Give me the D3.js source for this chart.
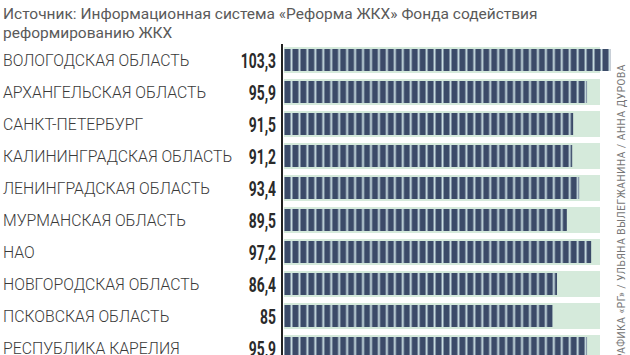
<!DOCTYPE html>
<html>
<head>
<meta charset="utf-8">
<script src="https://cdn.jsdelivr.net/npm/d3@7/dist/d3.min.js"></script>
<style>
  html, body { margin: 0; padding: 0; background: #fff; overflow: hidden; }
  svg { display: block; }
</style>
</head>
<body>
<svg id="chart" width="630" height="355"></svg>
<script>
const categories = [
  "ВОЛОГОДСКАЯ ОБЛАСТЬ",
  "АРХАНГЕЛЬСКАЯ ОБЛАСТЬ",
  "САНКТ-ПЕТЕРБУРГ",
  "КАЛИНИНГРАДСКАЯ ОБЛАСТЬ",
  "ЛЕНИНГРАДСКАЯ ОБЛАСТЬ",
  "МУРМАНСКАЯ ОБЛАСТЬ",
  "НАО",
  "НОВГОРОДСКАЯ ОБЛАСТЬ",
  "ПСКОВСКАЯ ОБЛАСТЬ",
  "РЕСПУБЛИКА КАРЕЛИЯ"
];
const values = [103.3, 95.9, 91.5, 91.2, 93.4, 89.5, 97.2, 86.4, 85, 95.9];
const trackMax = 100;
const titleLines = [
  "Источник: Информационная система «Реформа ЖКХ» Фонда содействия",
  "реформированию ЖКХ"
];
const credit = "ГРАФИКА «РГ» / УЛЬЯНА ВЫЛЕГЖАНИНА / АННА ДУРОВА";

const svg = d3.select("#chart");
const fmt = v => String(v).replace(".", ",");

const x = d3.scaleLinear().domain([0, trackMax]).range([284, 600]);
const y = d3.scaleBand().domain(categories).range([44, 364])
  .paddingInner(0.1875).paddingOuter(0.09375);

// pattern for segmented bars
const defs = svg.append("defs");
const pat = defs.append("pattern")
  .attr("id", "seg").attr("patternUnits", "userSpaceOnUse")
  .attr("x", x(0)).attr("y", 0).attr("width", 7.95).attr("height", 10);
pat.append("rect").attr("width", 7.95).attr("height", 10).attr("fill", "#cadee2");
pat.append("rect").attr("x", 0.5).attr("width", 6).attr("height", 10).attr("fill", "#3b4a68");

// title
svg.append("g").selectAll("text").data(titleLines).join("text")
  .attr("x", 3).attr("y", (d, i) => 19 + i * 19)
  .attr("font-family", "Roboto, 'Open Sans', sans-serif")
  .attr("font-size", 15.5).attr("fill", "#5a5a5a")
  .text(d => d);

const rows = svg.append("g").selectAll("g").data(categories).join("g");

// track
rows.append("rect")
  .attr("x", x(0)).attr("y", d => y(d))
  .attr("width", x(trackMax) - x(0)).attr("height", y.bandwidth())
  .attr("fill", "#d5eadb");

// bars
rows.append("rect")
  .attr("x", x(0)).attr("y", d => y(d) + 2)
  .attr("width", (d, i) => x(values[i]) - x(0)).attr("height", y.bandwidth() - 4)
  .attr("fill", "url(#seg)");

// category labels
rows.append("text")
  .attr("x", 3).attr("y", d => y(d) + y.bandwidth() / 2 + 5.5)
  .attr("font-family", "Roboto, sans-serif").attr("font-weight", 300)
  .attr("font-size", 15.8).attr("fill", "#3a3a3a")
  .text(d => d);

// value labels (condensed bold)
rows.append("text")
  .attr("transform", d => `translate(276,${y(d) + y.bandwidth() / 2 + 7.5}) scale(0.66,1)`)
  .attr("text-anchor", "end")
  .attr("font-family", "Roboto, sans-serif")
  .attr("font-weight", 700).attr("font-size", 21).attr("fill", "#2a2a2a")
  .text((d, i) => fmt(values[i]));

// axis line
svg.append("line")
  .attr("x1", x(0) - 2).attr("x2", x(0) - 2)
  .attr("y1", y(categories[0]) - 3).attr("y2", 355)
  .attr("stroke", "#222").attr("stroke-width", 2);

// credit
svg.append("text")
  .attr("transform", "translate(625,64) rotate(-90)")
  .attr("text-anchor", "end")
  .attr("font-family", "Roboto, sans-serif")
  .attr("font-size", 10).attr("fill", "#777")
  .attr("letter-spacing", 0.6)
  .text(credit);
</script>
</body>
</html>
